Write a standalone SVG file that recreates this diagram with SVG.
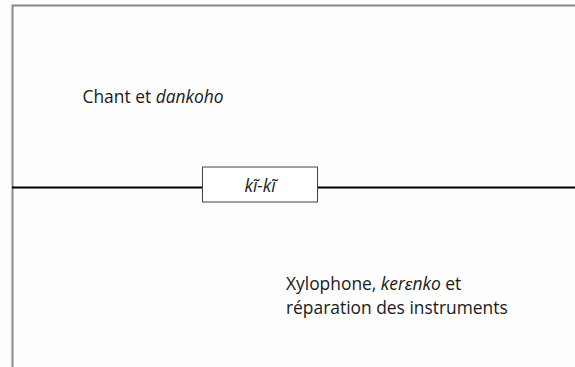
<svg xmlns="http://www.w3.org/2000/svg" width="575" height="367" viewBox="0 0 575 367">
<style>
.frame{fill:none;stroke:#8a8a8a;stroke-width:2}
.line{stroke:#000;stroke-width:2}
.box{fill:#fff;stroke:#444;stroke-width:1}
.t{font-family:"Open Sans","Liberation Sans",sans-serif;font-size:17.4px;fill:#1a1a1a}
.i{font-style:italic}
</style>
<rect width="575" height="367" fill="#fdfdfd"/>
<g id="frame">
<path class="frame" d="M12.5,367 V5.5 H575"/>
</g>
<g id="connectors">
<line class="line" x1="12" y1="187.5" x2="202.5" y2="187.5"/>
<line class="line" x1="317.5" y1="187.5" x2="575" y2="187.5"/>
</g>
<g id="kiki">
<rect class="box" x="202.5" y="167" width="115" height="35"/>
<text class="t i" x="260" y="192" text-anchor="middle">kĩ-kĩ</text>
</g>
<g id="chant">
<text class="t" x="82.5" y="103">Chant et <tspan class="i">dankoho</tspan></text>
</g>
<g id="xylophone">
<text class="t" x="286" y="289.5">Xylophone, <tspan class="i">kerɛnko</tspan> et</text>
<text class="t" x="286" y="313.5">réparation des instruments</text>
</g>
</svg>
